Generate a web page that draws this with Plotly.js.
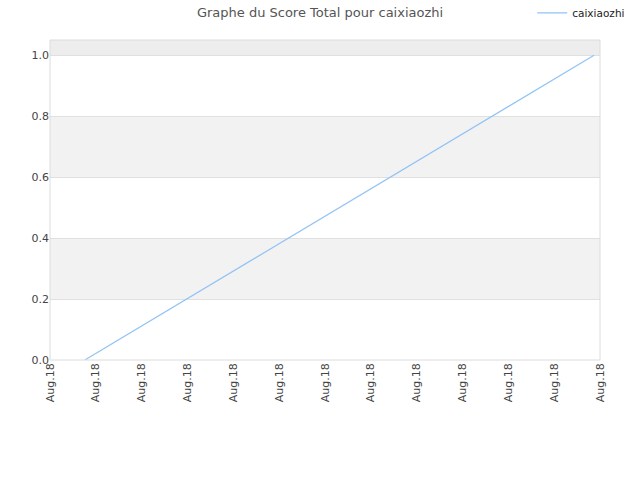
<!DOCTYPE html>
<html>
<head>
<meta charset="utf-8">
<script src="https://cdn.plot.ly/plotly-3.0.1.min.js"></script>
<style>
  html, body { margin: 0; padding: 0; background: #fff; }
  #chart { width: 640px; height: 480px; }
</style>
</head>
<body>
<div id="chart"></div>
<script>
// tick positions along the date axis, all labelled the same month
var tickPositions = [0, 1, 2, 3, 4, 5, 6, 7, 8, 9, 10, 11, 12];
var tickLabels = tickPositions.map(function () { return 'Aug.18'; });

// score series
var seriesName = 'caixiaozhi';
var scoreX = [0.76, 11.87];
var scoreY = [0, 1];

var yTicks = [0, 0.2, 0.4, 0.6, 0.8, 1.0];
var yMax = 1.05;

// alternate grey bands, every other tick interval
var bands = [];
for (var i = 1; i < yTicks.length; i += 2) {
    bands.push({
        type: 'rect', xref: 'paper', yref: 'y', layer: 'below',
        x0: 0, x1: 1, y0: yTicks[i], y1: yTicks[i + 1] !== undefined ? yTicks[i + 1] : yMax,
        fillcolor: i === yTicks.length - 1 ? '#ededed' : '#f2f2f2',
        line: { width: 0 }
    });
}
// plot frame
bands.push({
    type: 'rect', xref: 'paper', yref: 'paper', layer: 'above',
    x0: 0, x1: 1, y0: 0, y1: 1,
    line: { color: '#dcdcdc', width: 1 }
});

var traces = [{
    x: scoreX,
    y: scoreY,
    name: seriesName,
    type: 'scatter',
    mode: 'lines',
    line: { color: '#90c3f5', width: 1.2 }
}];

var layout = {
    width: 640,
    height: 480,
    paper_bgcolor: 'white',
    plot_bgcolor: 'white',
    font: { family: 'DejaVu Sans, sans-serif', size: 11, color: '#444' },
    title: {
        text: 'Graphe du Score Total pour caixiaozhi',
        font: { size: 13, color: '#555' },
        x: 0.5, xanchor: 'center', y: 0.975, yanchor: 'middle'
    },
    margin: { l: 50, r: 40, t: 40, b: 120, pad: 0, autoexpand: false },
    showlegend: true,
    legend: {
        x: 1.055, xanchor: 'right', y: 1.085, yanchor: 'middle',
        font: { size: 10.5, color: '#222' },
        itemwidth: 30,
        bgcolor: 'rgba(0,0,0,0)'
    },
    xaxis: {
        range: [0, 12],
        tickmode: 'array',
        tickvals: tickPositions,
        ticktext: tickLabels,
        tickangle: -90,
        showgrid: false,
        zeroline: false,
        showline: false,
        ticks: '',
        fixedrange: true
    },
    yaxis: {
        range: [0, yMax],
        tickmode: 'array',
        tickvals: yTicks,
        ticktext: yTicks.map(function (v) { return v.toFixed(1); }),
        showgrid: true,
        gridcolor: '#e0e0e0',
        zeroline: false,
        showline: false,
        ticks: '',
        fixedrange: true
    },
    shapes: bands
};

Plotly.newPlot('chart', traces, layout, { displayModeBar: false, staticPlot: true });
</script>
</body>
</html>
